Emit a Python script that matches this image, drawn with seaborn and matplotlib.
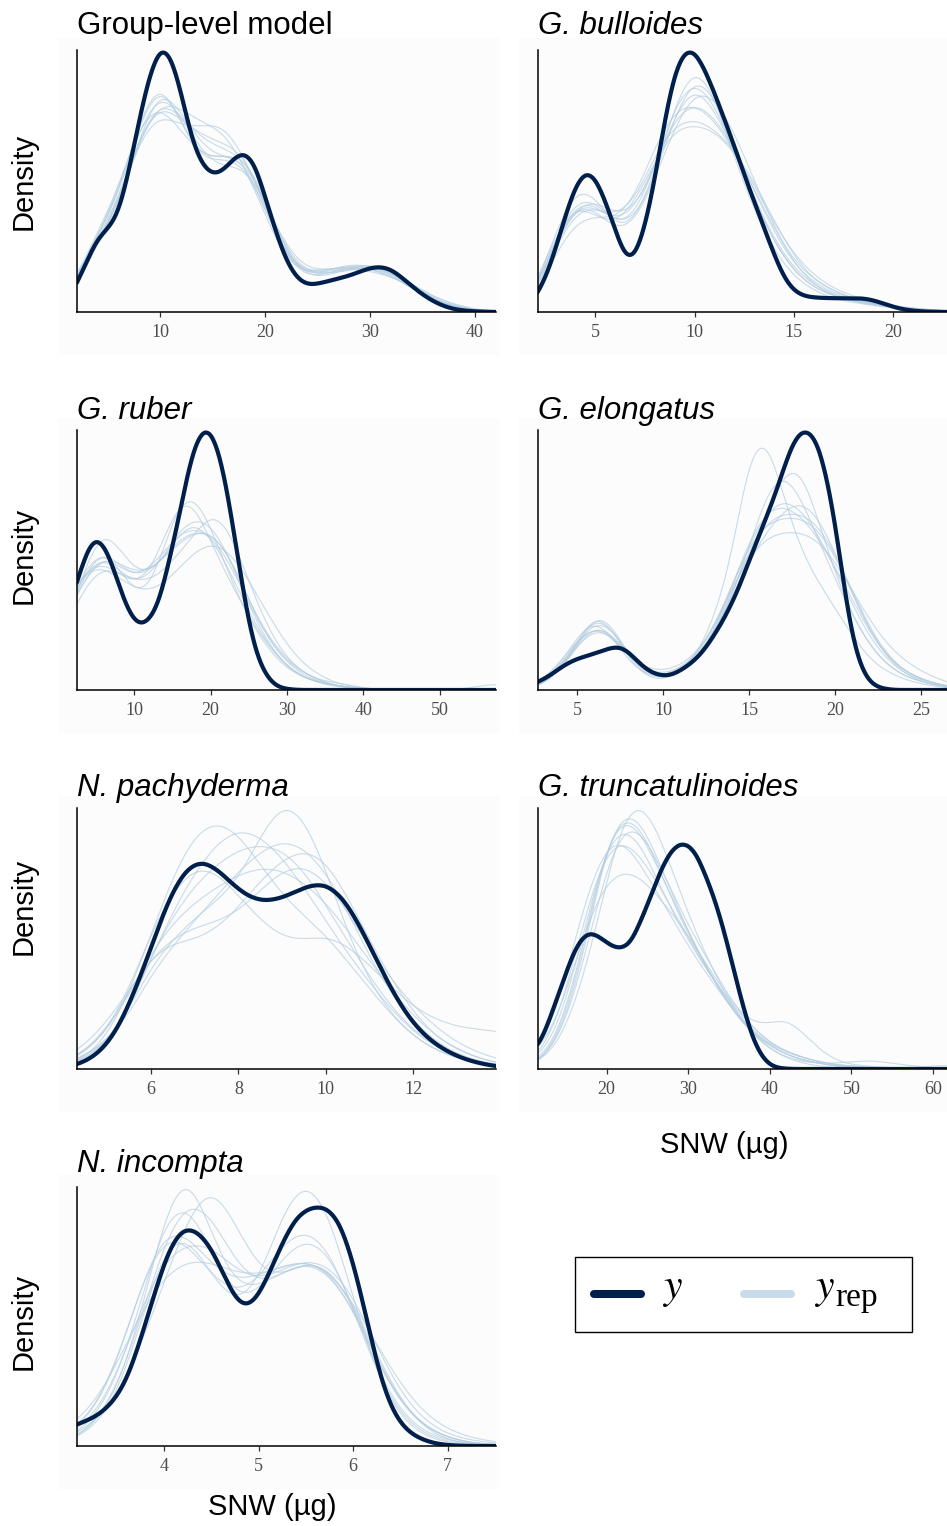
import numpy as np
import matplotlib
matplotlib.use("Agg")
import matplotlib.pyplot as plt
from matplotlib.lines import Line2D
from matplotlib.patches import Rectangle
import seaborn as sns

sns.set_theme(style="white")
plt.rcParams["font.family"] = ["Liberation Sans", "DejaVu Sans"]
plt.rcParams["mathtext.fontset"] = "stix"

Y_COLOR = "#011f4b"
REP_COLOR = "#b3cde0"
PANEL_BG = "#fcfcfc"

# ---------------------------------------------------------------------------
# Binned SNW (ug) frequencies: each series is (first bin centre, bin width)
# plus the relative frequency in every bin.  y = observed, rep = replicates.
# ---------------------------------------------------------------------------

GROUP_OBS_BINS = (1.0, 1.0)
GROUP_OBS = [0.03, 0.10, 0.19, 0.275, 0.31, 0.36, 0.52, 0.72, 0.89, 0.995,
             0.965, 0.82, 0.64, 0.545, 0.51, 0.525, 0.575, 0.60, 0.56, 0.43,
             0.30, 0.19, 0.125, 0.10, 0.105, 0.115, 0.125, 0.135, 0.15, 0.165,
             0.17, 0.16, 0.13, 0.095, 0.065, 0.04, 0.022, 0.01, 0.005, 0.002,
             0.001, 0.0]
GROUP_REP_BINS = (0.0, 2.0)
GROUP_REP = [
    [0.02, 0.12, 0.30, 0.45, 0.74, 0.92, 0.74, 0.58, 0.62, 0.60, 0.40, 0.20, 0.14, 0.16, 0.19, 0.18, 0.15, 0.09, 0.04, 0.015, 0.005, 0.001, 0],
    [0.01, 0.10, 0.27, 0.42, 0.68, 0.84, 0.80, 0.74, 0.72, 0.58, 0.38, 0.19, 0.15, 0.17, 0.18, 0.17, 0.14, 0.10, 0.05, 0.02, 0.008, 0.002, 0],
    [0.02, 0.13, 0.31, 0.47, 0.74, 0.82, 0.70, 0.60, 0.60, 0.62, 0.45, 0.22, 0.13, 0.14, 0.17, 0.19, 0.16, 0.10, 0.05, 0.02, 0.006, 0.002, 0],
    [0.02, 0.11, 0.28, 0.40, 0.68, 0.90, 0.78, 0.64, 0.60, 0.60, 0.44, 0.23, 0.15, 0.15, 0.16, 0.18, 0.16, 0.11, 0.05, 0.02, 0.007, 0.002, 0],
    [0.01, 0.10, 0.26, 0.41, 0.68, 0.78, 0.72, 0.72, 0.74, 0.61, 0.41, 0.21, 0.14, 0.16, 0.17, 0.17, 0.15, 0.11, 0.06, 0.025, 0.008, 0.003, 0],
    [0.02, 0.12, 0.29, 0.44, 0.71, 0.86, 0.76, 0.60, 0.55, 0.57, 0.43, 0.24, 0.16, 0.16, 0.18, 0.17, 0.14, 0.09, 0.045, 0.02, 0.006, 0.002, 0],
    [0.02, 0.11, 0.29, 0.43, 0.69, 0.83, 0.75, 0.69, 0.66, 0.63, 0.42, 0.20, 0.13, 0.15, 0.18, 0.19, 0.15, 0.10, 0.05, 0.018, 0.005, 0.001, 0],
    [0.01, 0.12, 0.30, 0.46, 0.75, 0.94, 0.73, 0.58, 0.60, 0.59, 0.40, 0.21, 0.15, 0.17, 0.17, 0.16, 0.14, 0.10, 0.06, 0.03, 0.01, 0.003, 0],
    [0.02, 0.11, 0.27, 0.43, 0.69, 0.84, 0.77, 0.67, 0.64, 0.61, 0.44, 0.22, 0.14, 0.15, 0.17, 0.18, 0.16, 0.10, 0.05, 0.02, 0.006, 0.002, 0],
]

BULLOIDES_OBS_BINS = (1.5, 0.5)
BULLOIDES_OBS = [0.01, 0.06, 0.13, 0.24, 0.37, 0.48, 0.535, 0.51, 0.42, 0.31,
                 0.20, 0.205, 0.32, 0.50, 0.73, 0.91, 0.99, 0.99, 0.92, 0.83,
                 0.73, 0.63, 0.52, 0.42, 0.32, 0.22, 0.13, 0.08, 0.06, 0.055,
                 0.053, 0.052, 0.052, 0.052, 0.052, 0.045, 0.033, 0.02, 0.01,
                 0.005, 0.002, 0.001]
BULLOIDES_REP_BINS = (1.0, 1.0)
BULLOIDES_REP = [
    [0.0, 0.09, 0.30, 0.48, 0.44, 0.31, 0.33, 0.52, 0.78, 0.95, 0.82, 0.58, 0.38, 0.23, 0.13, 0.08, 0.05, 0.035, 0.025, 0.015, 0.01, 0.006, 0.003, 0],
    [0.0, 0.07, 0.25, 0.39, 0.40, 0.36, 0.42, 0.60, 0.72, 0.74, 0.70, 0.62, 0.50, 0.35, 0.21, 0.12, 0.08, 0.05, 0.03, 0.02, 0.012, 0.007, 0.004, 0],
    [0.0, 0.08, 0.28, 0.43, 0.42, 0.33, 0.34, 0.50, 0.74, 0.90, 0.82, 0.62, 0.42, 0.26, 0.15, 0.09, 0.06, 0.04, 0.03, 0.02, 0.01, 0.006, 0.003, 0],
    [0.0, 0.06, 0.22, 0.34, 0.36, 0.34, 0.42, 0.62, 0.76, 0.78, 0.72, 0.60, 0.46, 0.31, 0.19, 0.12, 0.08, 0.05, 0.03, 0.02, 0.012, 0.007, 0.004, 0],
    [0.0, 0.09, 0.27, 0.41, 0.41, 0.32, 0.35, 0.54, 0.78, 0.88, 0.78, 0.60, 0.42, 0.26, 0.15, 0.09, 0.06, 0.04, 0.025, 0.015, 0.01, 0.005, 0.002, 0],
    [0.0, 0.08, 0.26, 0.41, 0.39, 0.30, 0.33, 0.50, 0.70, 0.84, 0.82, 0.68, 0.50, 0.32, 0.18, 0.10, 0.06, 0.04, 0.03, 0.02, 0.01, 0.006, 0.003, 0],
    [0.0, 0.10, 0.30, 0.42, 0.37, 0.33, 0.42, 0.58, 0.71, 0.72, 0.70, 0.62, 0.49, 0.34, 0.22, 0.14, 0.09, 0.06, 0.04, 0.025, 0.015, 0.008, 0.004, 0],
    [0.0, 0.07, 0.25, 0.40, 0.42, 0.36, 0.38, 0.53, 0.74, 0.86, 0.76, 0.60, 0.43, 0.27, 0.16, 0.10, 0.065, 0.045, 0.03, 0.02, 0.012, 0.007, 0.004, 0],
    [0.0, 0.08, 0.27, 0.41, 0.40, 0.34, 0.38, 0.56, 0.74, 0.80, 0.74, 0.62, 0.46, 0.30, 0.18, 0.11, 0.07, 0.05, 0.035, 0.022, 0.014, 0.008, 0.004, 0],
]

RUBER_OBS_BINS = (1.0, 1.0)
RUBER_OBS = [0.28, 0.37, 0.46, 0.545, 0.58, 0.555, 0.49, 0.40, 0.32, 0.265,
             0.25, 0.27, 0.32, 0.42, 0.55, 0.68, 0.83, 0.94, 0.995, 0.99,
             0.92, 0.79, 0.615, 0.43, 0.26, 0.14, 0.07, 0.03, 0.01, 0.004,
             0.001, 0.0]
RUBER_REP_BINS = (0.0, 2.0)
RUBER_REP = [
    [0.22, 0.33, 0.52, 0.63, 0.56, 0.47, 0.46, 0.52, 0.62, 0.66, 0.60, 0.50, 0.37, 0.25, 0.16, 0.09, 0.05, 0.03, 0.015, 0.008, 0.004],
    [0.28, 0.38, 0.46, 0.48, 0.44, 0.40, 0.44, 0.58, 0.72, 0.70, 0.56, 0.44, 0.33, 0.23, 0.15, 0.09, 0.05, 0.03, 0.02, 0.01, 0.005],
    [0.20, 0.30, 0.42, 0.47, 0.45, 0.42, 0.42, 0.46, 0.53, 0.60, 0.68, 0.64, 0.50, 0.34, 0.21, 0.12, 0.07, 0.04, 0.02, 0.01, 0.005],
    [0.27, 0.36, 0.48, 0.53, 0.46, 0.37, 0.38, 0.55, 0.72, 0.74, 0.62, 0.47, 0.33, 0.22, 0.14, 0.08, 0.05, 0.03, 0.02, 0.01, 0.004],
    [0.30, 0.38, 0.45, 0.46, 0.42, 0.38, 0.37, 0.40, 0.46, 0.52, 0.55, 0.53, 0.46, 0.36, 0.26, 0.17, 0.10, 0.06, 0.03, 0.015, 0.006,
     0.003, 0.001, 0.0, 0.0, 0.0, 0.002, 0.008, 0.018, 0.025],
    [0.24, 0.35, 0.49, 0.55, 0.50, 0.45, 0.47, 0.53, 0.60, 0.63, 0.62, 0.56, 0.43, 0.29, 0.18, 0.11, 0.06, 0.035, 0.02, 0.01, 0.005],
    [0.25, 0.34, 0.46, 0.52, 0.50, 0.46, 0.47, 0.52, 0.58, 0.62, 0.62, 0.55, 0.42, 0.29, 0.19, 0.12, 0.07, 0.04, 0.02, 0.01, 0.005],
    [0.26, 0.36, 0.47, 0.51, 0.46, 0.41, 0.44, 0.52, 0.62, 0.66, 0.64, 0.54, 0.40, 0.26, 0.16, 0.09, 0.05, 0.03, 0.02, 0.01, 0.005],
    [0.23, 0.34, 0.46, 0.52, 0.48, 0.44, 0.47, 0.54, 0.61, 0.63, 0.60, 0.52, 0.40, 0.28, 0.18, 0.11, 0.07, 0.04, 0.03, 0.02, 0.01],
]

ELONGATUS_OBS_BINS = (2.0, 0.5)
ELONGATUS_OBS = [0.01, 0.025, 0.04, 0.06, 0.085, 0.105, 0.12, 0.13, 0.14, 0.152,
                 0.163, 0.166, 0.145, 0.11, 0.08, 0.062, 0.054, 0.058, 0.075, 0.097,
                 0.125, 0.165, 0.215, 0.27, 0.335, 0.41, 0.50, 0.58, 0.665, 0.75,
                 0.85, 0.945, 0.995, 0.995, 0.945, 0.82, 0.64, 0.40, 0.20, 0.085,
                 0.03, 0.01, 0.003]
ELONGATUS_REP_BINS = (2.0, 1.0)
ELONGATUS_REP = [
    [0.0, 0.02, 0.06, 0.16, 0.26, 0.21, 0.10, 0.04, 0.03, 0.06, 0.12, 0.24, 0.44, 0.80, 0.86, 0.64, 0.46, 0.36, 0.27, 0.18, 0.10, 0.06, 0.035, 0.02, 0.01, 0.005],
    [0.0, 0.03, 0.08, 0.18, 0.27, 0.23, 0.12, 0.06, 0.05, 0.07, 0.11, 0.20, 0.34, 0.52, 0.72, 0.80, 0.70, 0.55, 0.40, 0.27, 0.16, 0.09, 0.05, 0.03, 0.015, 0.008],
    [0.0, 0.02, 0.07, 0.16, 0.24, 0.21, 0.12, 0.06, 0.04, 0.06, 0.11, 0.21, 0.35, 0.50, 0.64, 0.80, 0.82, 0.62, 0.42, 0.27, 0.16, 0.09, 0.05, 0.03, 0.015, 0.008],
    [0.0, 0.03, 0.09, 0.18, 0.25, 0.21, 0.12, 0.07, 0.06, 0.08, 0.13, 0.22, 0.35, 0.49, 0.60, 0.68, 0.72, 0.66, 0.52, 0.36, 0.22, 0.13, 0.07, 0.04, 0.02, 0.01],
    [0.0, 0.04, 0.10, 0.19, 0.24, 0.20, 0.12, 0.08, 0.07, 0.09, 0.14, 0.24, 0.38, 0.50, 0.57, 0.59, 0.59, 0.56, 0.48, 0.37, 0.26, 0.17, 0.11, 0.07, 0.04, 0.02],
    [0.0, 0.03, 0.08, 0.17, 0.26, 0.23, 0.13, 0.06, 0.04, 0.06, 0.11, 0.22, 0.38, 0.55, 0.66, 0.68, 0.64, 0.56, 0.45, 0.33, 0.21, 0.12, 0.07, 0.04, 0.02, 0.01],
    [0.0, 0.02, 0.07, 0.16, 0.29, 0.25, 0.12, 0.05, 0.04, 0.07, 0.13, 0.24, 0.39, 0.54, 0.62, 0.64, 0.64, 0.60, 0.50, 0.36, 0.22, 0.12, 0.06, 0.03, 0.015, 0.008],
    [0.0, 0.03, 0.08, 0.17, 0.23, 0.21, 0.13, 0.07, 0.05, 0.07, 0.12, 0.22, 0.37, 0.52, 0.63, 0.66, 0.66, 0.62, 0.51, 0.37, 0.23, 0.13, 0.07, 0.04, 0.02, 0.01],
    [0.0, 0.03, 0.09, 0.20, 0.26, 0.20, 0.10, 0.05, 0.05, 0.08, 0.13, 0.23, 0.37, 0.53, 0.65, 0.70, 0.66, 0.57, 0.44, 0.31, 0.19, 0.11, 0.06, 0.035, 0.02, 0.01],
]

PACHYDERMA_OBS_BINS = (4.0, 0.4)
PACHYDERMA_OBS = [0.003, 0.02, 0.055, 0.135, 0.28, 0.46, 0.65, 0.77, 0.80, 0.75,
                  0.68, 0.64, 0.64, 0.665, 0.70, 0.71, 0.655, 0.54, 0.40, 0.27,
                  0.17, 0.105, 0.063, 0.035, 0.018, 0.008]
PACHYDERMA_REP_BINS = (4.0, 0.5)
PACHYDERMA_REP = [
    [0.01, 0.04, 0.10, 0.24, 0.45, 0.64, 0.80, 0.92, 0.98, 0.95, 0.86, 0.74, 0.60, 0.47, 0.35, 0.24, 0.15, 0.09, 0.05, 0.03, 0.015, 0.005],
    [0.02, 0.05, 0.10, 0.22, 0.38, 0.48, 0.56, 0.62, 0.70, 0.86, 1.00, 0.94, 0.74, 0.50, 0.32, 0.20, 0.12, 0.07, 0.04, 0.02, 0.01, 0.004],
    [0.01, 0.04, 0.12, 0.28, 0.50, 0.72, 0.88, 0.93, 0.88, 0.76, 0.65, 0.57, 0.50, 0.40, 0.30, 0.20, 0.12, 0.07, 0.04, 0.02, 0.01, 0.004],
    [0.02, 0.05, 0.11, 0.22, 0.38, 0.50, 0.60, 0.70, 0.80, 0.88, 0.93, 0.90, 0.80, 0.64, 0.45, 0.30, 0.19, 0.11, 0.06, 0.03, 0.015, 0.006],
    [0.01, 0.04, 0.10, 0.24, 0.44, 0.60, 0.72, 0.80, 0.86, 0.88, 0.86, 0.78, 0.64, 0.50, 0.36, 0.24, 0.15, 0.09, 0.05, 0.025, 0.012, 0.005],
    [0.03, 0.07, 0.15, 0.32, 0.55, 0.72, 0.82, 0.80, 0.70, 0.60, 0.53, 0.52, 0.54, 0.50, 0.42, 0.33, 0.25, 0.20, 0.17, 0.16, 0.15, 0.14],
    [0.02, 0.06, 0.14, 0.28, 0.42, 0.47, 0.48, 0.52, 0.60, 0.70, 0.78, 0.82, 0.78, 0.64, 0.48, 0.33, 0.21, 0.12, 0.07, 0.04, 0.02, 0.008],
    [0.02, 0.07, 0.16, 0.30, 0.46, 0.58, 0.66, 0.72, 0.77, 0.80, 0.79, 0.74, 0.66, 0.55, 0.43, 0.31, 0.21, 0.13, 0.08, 0.04, 0.02, 0.01],
    [0.04, 0.09, 0.18, 0.30, 0.42, 0.50, 0.54, 0.56, 0.60, 0.68, 0.76, 0.78, 0.72, 0.60, 0.46, 0.34, 0.24, 0.16, 0.10, 0.06, 0.035, 0.02],
]

TRUNCATULINOIDES_OBS_BINS = (10.0, 1.0)
TRUNCATULINOIDES_OBS = [0.04, 0.07, 0.11, 0.19, 0.28, 0.37, 0.455, 0.51, 0.53, 0.515,
                        0.49, 0.47, 0.468, 0.49, 0.56, 0.635, 0.72, 0.795, 0.85, 0.875,
                        0.87, 0.835, 0.76, 0.68, 0.58, 0.46, 0.33, 0.21, 0.11, 0.048,
                        0.015, 0.004, 0.001]
TRUNCATULINOIDES_REP_BINS = (10.0, 2.0)
TRUNCATULINOIDES_REP = [
    [0.01, 0.03, 0.09, 0.22, 0.42, 0.68, 0.90, 0.97, 0.88, 0.72, 0.56, 0.42, 0.30, 0.20, 0.12, 0.07, 0.04, 0.02, 0.01, 0.005, 0.002, 0.001, 0, 0, 0, 0, 0],
    [0.01, 0.04, 0.12, 0.30, 0.55, 0.78, 0.88, 0.84, 0.72, 0.60, 0.48, 0.37, 0.27, 0.18, 0.12, 0.08, 0.05, 0.03, 0.02, 0.01, 0.005, 0.002, 0.001, 0, 0, 0, 0],
    [0.01, 0.03, 0.10, 0.26, 0.50, 0.76, 0.88, 0.86, 0.74, 0.60, 0.47, 0.36, 0.26, 0.18, 0.12, 0.08, 0.05, 0.03, 0.02, 0.01, 0.005, 0.002, 0.001, 0, 0, 0, 0],
    [0.03, 0.08, 0.22, 0.45, 0.66, 0.80, 0.82, 0.74, 0.64, 0.54, 0.44, 0.35, 0.27, 0.19, 0.13, 0.09, 0.06, 0.04, 0.025, 0.015, 0.01, 0.005, 0.002, 0.001, 0, 0, 0],
    [0.03, 0.08, 0.18, 0.36, 0.54, 0.66, 0.70, 0.68, 0.62, 0.55, 0.47, 0.38, 0.29, 0.21, 0.16, 0.16, 0.18, 0.13, 0.07, 0.03, 0.015, 0.01, 0.005, 0.003, 0.002, 0.001, 0],
    [0.01, 0.03, 0.11, 0.28, 0.52, 0.77, 0.87, 0.84, 0.72, 0.58, 0.46, 0.36, 0.27, 0.19, 0.13, 0.08, 0.05, 0.03, 0.02, 0.01, 0.006, 0.003, 0.001, 0, 0, 0, 0],
    [0.02, 0.06, 0.17, 0.38, 0.60, 0.76, 0.80, 0.75, 0.66, 0.56, 0.46, 0.36, 0.27, 0.19, 0.12, 0.07, 0.04, 0.025, 0.02, 0.02, 0.025, 0.03, 0.025, 0.015, 0.01, 0.005, 0.002],
    [0.01, 0.03, 0.10, 0.25, 0.47, 0.70, 0.84, 0.84, 0.74, 0.62, 0.50, 0.40, 0.30, 0.21, 0.14, 0.09, 0.06, 0.04, 0.025, 0.015, 0.01, 0.008, 0.006, 0.005, 0.006, 0.01, 0.015],
    [0.02, 0.05, 0.14, 0.33, 0.56, 0.76, 0.83, 0.78, 0.66, 0.54, 0.44, 0.35, 0.27, 0.20, 0.14, 0.09, 0.06, 0.04, 0.025, 0.015, 0.01, 0.006, 0.003, 0.001, 0, 0, 0],
]

INCOMPTA_OBS_BINS = (2.85, 0.15)
INCOMPTA_OBS = [0.05, 0.068, 0.088, 0.11, 0.155, 0.23, 0.385, 0.56, 0.725, 0.805,
                0.79, 0.73, 0.61, 0.505, 0.515, 0.62, 0.745, 0.845, 0.875, 0.88,
                0.835, 0.68, 0.455, 0.225, 0.10, 0.045, 0.02, 0.006, 0.002]
INCOMPTA_REP_BINS = (2.75, 0.25)
INCOMPTA_REP = [
    [0.0, 0.02, 0.07, 0.20, 0.48, 0.88, 1.08, 0.80, 0.60, 0.60, 0.66, 0.70, 0.66, 0.52, 0.32, 0.16, 0.07, 0.03, 0.01, 0.005, 0.0],
    [0.01, 0.03, 0.08, 0.18, 0.36, 0.60, 0.84, 0.98, 0.82, 0.64, 0.62, 0.68, 0.66, 0.52, 0.32, 0.16, 0.07, 0.03, 0.01, 0.005, 0.0],
    [0.01, 0.03, 0.09, 0.24, 0.52, 0.85, 0.92, 0.72, 0.54, 0.56, 0.70, 0.78, 0.72, 0.52, 0.28, 0.12, 0.05, 0.02, 0.008, 0.003, 0.0],
    [0.0, 0.02, 0.06, 0.18, 0.45, 0.76, 0.80, 0.64, 0.52, 0.60, 0.88, 1.02, 0.88, 0.55, 0.26, 0.10, 0.035, 0.01, 0.004, 0.001, 0.0],
    [0.02, 0.05, 0.12, 0.30, 0.60, 0.82, 0.80, 0.68, 0.62, 0.64, 0.68, 0.70, 0.66, 0.52, 0.32, 0.16, 0.07, 0.03, 0.012, 0.005, 0.002],
    [0.03, 0.07, 0.15, 0.30, 0.50, 0.64, 0.70, 0.69, 0.65, 0.64, 0.67, 0.70, 0.66, 0.54, 0.38, 0.23, 0.12, 0.06, 0.03, 0.015, 0.007],
    [0.0, 0.02, 0.07, 0.20, 0.45, 0.74, 0.90, 0.84, 0.66, 0.58, 0.62, 0.67, 0.64, 0.52, 0.33, 0.16, 0.06, 0.02, 0.006, 0.002, 0.0],
    [0.02, 0.05, 0.12, 0.30, 0.58, 0.78, 0.74, 0.62, 0.55, 0.60, 0.74, 0.80, 0.72, 0.50, 0.26, 0.11, 0.04, 0.015, 0.005, 0.002, 0.0],
    [0.01, 0.04, 0.10, 0.25, 0.50, 0.68, 0.74, 0.73, 0.64, 0.60, 0.64, 0.68, 0.66, 0.55, 0.36, 0.19, 0.09, 0.04, 0.02, 0.01, 0.005],
]

# axis ranges (ug) and tick marks of each panel
GROUP_RANGE, GROUP_TICKS = (2.07, 42.0), [10, 20, 30, 40]
BULLOIDES_RANGE, BULLOIDES_TICKS = (2.1, 22.74), [5, 10, 15, 20]
RUBER_RANGE, RUBER_TICKS = (2.5, 57.4), [10, 20, 30, 40, 50]
ELONGATUS_RANGE, ELONGATUS_TICKS = (2.71, 26.5), [5, 10, 15, 20, 25]
PACHYDERMA_RANGE, PACHYDERMA_TICKS = (4.31, 13.89), [6, 8, 10, 12]
TRUNCATULINOIDES_RANGE, TRUNCATULINOIDES_TICKS = (11.6, 61.7), [20, 30, 40, 50, 60]
INCOMPTA_RANGE, INCOMPTA_TICKS = (3.08, 7.51), [4, 5, 6, 7]

# kernel bandwidth as a fraction of the bin width
BW_SCALE = 0.7


def density_line(ax, bins, freqs, x_end, **line_kws):
    """Kernel density of a binned series, drawn with seaborn's kdeplot."""
    first, width = bins
    freqs = np.asarray(freqs, dtype=float)
    centres = first + width * np.arange(freqs.size)
    if centres[-1] < x_end:
        centres = np.append(centres, x_end)
        freqs = np.append(freqs, 0.0)
    spread = np.sqrt(np.cov(centres, aweights=freqs))
    sns.kdeplot(x=centres, weights=freqs, bw_method=BW_SCALE * width / spread,
                cut=0, gridsize=1200, ax=ax, **line_kws)


# ---------------------------------------------------------------------------
# Figure layout (pixel geometry of a 947 x 1526 canvas)
# ---------------------------------------------------------------------------
W, H = 947, 1526
fig = plt.figure(figsize=(W / 100, H / 100), dpi=100)
fig.patch.set_facecolor("white")


def fx(px):
    return px / W


def fy(py):
    return 1 - py / H


COLS = [(77, 496), (538, 947)]
ROWS = [(50, 312), (430, 690), (808, 1069), (1187, 1446)]

panels = [
    ("Group-level model", False, 0, 0, 34, GROUP_OBS_BINS, GROUP_OBS, GROUP_REP_BINS, GROUP_REP, GROUP_RANGE, GROUP_TICKS),
    ("G. bulloides", True, 1, 0, 34, BULLOIDES_OBS_BINS, BULLOIDES_OBS, BULLOIDES_REP_BINS, BULLOIDES_REP, BULLOIDES_RANGE, BULLOIDES_TICKS),
    ("G. ruber", True, 0, 1, 419, RUBER_OBS_BINS, RUBER_OBS, RUBER_REP_BINS, RUBER_REP, RUBER_RANGE, RUBER_TICKS),
    ("G. elongatus", True, 1, 1, 419, ELONGATUS_OBS_BINS, ELONGATUS_OBS, ELONGATUS_REP_BINS, ELONGATUS_REP, ELONGATUS_RANGE, ELONGATUS_TICKS),
    ("N. pachyderma", True, 0, 2, 796, PACHYDERMA_OBS_BINS, PACHYDERMA_OBS, PACHYDERMA_REP_BINS, PACHYDERMA_REP, PACHYDERMA_RANGE, PACHYDERMA_TICKS),
    ("G. truncatulinoides", True, 1, 2, 796, TRUNCATULINOIDES_OBS_BINS, TRUNCATULINOIDES_OBS, TRUNCATULINOIDES_REP_BINS, TRUNCATULINOIDES_REP, TRUNCATULINOIDES_RANGE, TRUNCATULINOIDES_TICKS),
    ("N. incompta", True, 0, 3, 1172, INCOMPTA_OBS_BINS, INCOMPTA_OBS, INCOMPTA_REP_BINS, INCOMPTA_REP, INCOMPTA_RANGE, INCOMPTA_TICKS),
]

for title, italic, col, row, base, obs_bins, obs, rep_bins, reps, xrange_, ticks in panels:
    left, right = COLS[col]
    top, bottom = ROWS[row]

    # faint plot background
    bg_left = left - 19
    bg_right = min(right + 4, W)
    bg_top, bg_bottom = top - 12, bottom + 43
    fig.add_artist(Rectangle((fx(bg_left), fy(bg_bottom)),
                             (bg_right - bg_left) / W, (bg_bottom - bg_top) / H,
                             transform=fig.transFigure, facecolor=PANEL_BG,
                             edgecolor="none", zorder=-5))

    ax = fig.add_axes([fx(left), fy(bottom), (right - left) / W, (bottom - top) / H])
    ax.set_facecolor("none")

    for rep in reps:
        density_line(ax, rep_bins, rep, xrange_[1], color=REP_COLOR, lw=0.8, alpha=0.7)
    density_line(ax, obs_bins, obs, xrange_[1], color=Y_COLOR, lw=3.0,
                 solid_capstyle="round")

    ymax = max(np.max(line.get_ydata()) for line in ax.lines)
    ax.set_xlim(*xrange_)
    ax.set_ylim(0, ymax * 1.01)
    ax.set_xticks(ticks)
    ax.set_xticklabels([str(t) for t in ticks])
    ax.set_yticks([])
    ax.set_xlabel("")
    ax.set_ylabel("")

    for side in ("top", "right"):
        ax.spines[side].set_visible(False)
    for side in ("left", "bottom"):
        ax.spines[side].set_color("black")
        ax.spines[side].set_linewidth(1.1)
    ax.tick_params(axis="x", which="both", bottom=True, direction="out",
                   length=3.5, width=0.9, color="#333333", pad=5,
                   labelsize=13, labelcolor="#4d4d4d")
    for lab in ax.get_xticklabels():
        lab.set_fontfamily("Liberation Serif")

    fig.text(fx(left), fy(base), title, ha="left", va="baseline",
             fontsize=22.5, fontstyle="italic" if italic else "normal",
             color="black")

# y-axis titles on the left column
for cy in (181, 555, 906, 1321):
    fig.text(fx(24), fy(cy), "Density", rotation=90, ha="center",
             va="center", fontsize=21, color="black")

# x-axis titles under the bottom panel of each column
fig.text(fx(272), fy(1507), "SNW (µg)", ha="center", va="center",
         fontsize=21, color="black")
fig.text(fx(724), fy(1145), "SNW (µg)", ha="center", va="center",
         fontsize=21, color="black")

# legend: framed key with the observed and replicated line styles
fig.add_artist(Rectangle((fx(575), fy(1332)), (912 - 575) / W, (1332 - 1257) / H,
                         transform=fig.transFigure, facecolor="white",
                         edgecolor="black", linewidth=1.0, zorder=3))
fig.add_artist(Line2D([fx(594), fx(641)], [fy(1294), fy(1294)],
                      transform=fig.transFigure, color=Y_COLOR, lw=5.8,
                      solid_capstyle="round", zorder=4))
fig.add_artist(Line2D([fx(744), fx(791)], [fy(1294), fy(1294)],
                      transform=fig.transFigure, color=REP_COLOR, alpha=0.7,
                      lw=5.8, solid_capstyle="round", zorder=4))
fig.text(fx(662), fy(1298), r"$y$", fontsize=30, ha="left", va="baseline",
         color="black", zorder=5)
fig.text(fx(814), fy(1298), r"$y$", fontsize=30, ha="left", va="baseline",
         color="black", zorder=5)
fig.text(fx(835), fy(1306), "rep", fontsize=24, ha="left", va="baseline",
         fontfamily="Liberation Serif", color="black", zorder=5)

fig.savefig("out.png", dpi=100, facecolor="white")
